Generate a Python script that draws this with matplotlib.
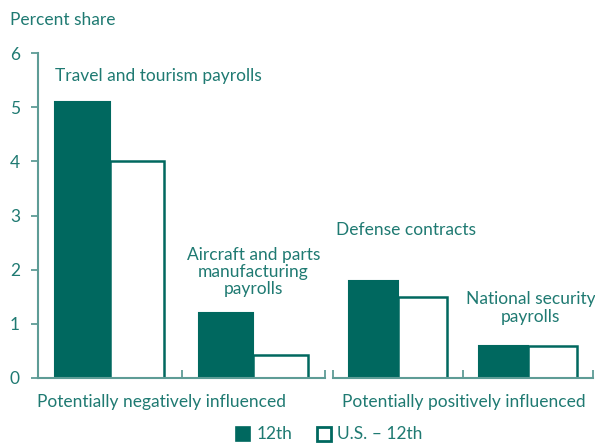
import matplotlib
matplotlib.use("Agg")
import matplotlib.pyplot as plt
from matplotlib.patches import Rectangle

plt.rcParams['font.family'] = ['Lato', 'DejaVu Sans']

# Data
left_categories = ["Travel and tourism payrolls", "Aircraft and parts\nmanufacturing\npayrolls"]
right_categories = ["Defense contracts", "National security\npayrolls"]
left_12th = [5.1, 1.2]
left_us = [4.0, 0.43]
right_12th = [1.8, 0.6]
right_us = [1.5, 0.6]
group_labels = ["Potentially negatively influenced", "Potentially positively influenced"]
series_names = ["12th", "U.S. \u2013 12th"]
yticks = [0, 1, 2, 3, 4, 5, 6]

BAR = '#00685F'
TXT = '#1F7A72'
AX = '#5E9C96'

fig = plt.figure(figsize=(5.95, 4.44), dpi=100)
W, H = 595, 444

def axrect(x0, x1, ytop, ybot):
    return [x0 / W, 1 - ybot / H, (x1 - x0) / W, (ybot - ytop) / H]

axL = fig.add_axes(axrect(38, 325, 53, 378))
axR = fig.add_axes(axrect(333, 593, 53, 378))

w = 0.38
centers = [0.5, 1.5]
for ax, v12, vus in [(axL, left_12th, left_us), (axR, right_12th, right_us)]:
    ax.bar([c - w / 2 for c in centers], v12, width=w, color=BAR, edgecolor=BAR, linewidth=1.5)
    ax.bar([c + w / 2 for c in centers], vus, width=w, color='white', edgecolor=BAR, linewidth=1.8)
    ax.set_xlim(0, 2)
    ax.set_ylim(0, 6)
    for s in ['top', 'right']:
        ax.spines[s].set_visible(False)
    ax.spines['bottom'].set_color(AX)
    ax.spines['bottom'].set_linewidth(1.5)
    ax.set_xticks([0, 1, 2])
    ax.set_xticklabels([])
    ax.tick_params(axis='x', direction='in', length=6, width=1.3, color=AX)
    ax.patch.set_alpha(0)

axL.spines['left'].set_color(AX)
axL.spines['left'].set_linewidth(1.5)
axL.set_yticks(yticks)
axL.set_yticklabels([str(t) for t in yticks])
axL.tick_params(axis='y', direction='out', length=5, width=1.3, color=AX,
                labelcolor=TXT, labelsize=12.5, pad=8)
axR.spines['left'].set_visible(False)
axR.set_yticks([])

fs = 12.5
axL.text(centers[0] - w, 5.57, left_categories[0], color=TXT, fontsize=fs, ha='left', va='center')
axL.text(centers[1], 1.96, left_categories[1], color=TXT, fontsize=fs, ha='center', va='center',
         linespacing=1.1)
axR.text(0.56, 2.73, right_categories[0], color=TXT, fontsize=fs, ha='center', va='center')
axR.text(1.52, 1.29, right_categories[1], color=TXT, fontsize=fs, ha='center', va='center',
         linespacing=1.1)

axL.text(0.864, -0.45, group_labels[0], color=TXT, fontsize=fs, ha='center', va='center')
axR.text(1.01, -0.45, group_labels[1], color=TXT, fontsize=fs, ha='center', va='center')

fig.text(10 / W, 1 - 20 / H, "Percent share", color=TXT, fontsize=fs, ha='left', va='center')

# Legend
sq = 14
fig.patches.append(Rectangle((236 / W, 1 - 441 / H), sq / W, sq / H, transform=fig.transFigure,
                             facecolor=BAR, edgecolor=BAR, linewidth=1.2))
fig.text(257 / W, 1 - 434 / H, series_names[0], color=TXT, fontsize=fs, ha='left', va='center')
fig.patches.append(Rectangle((317 / W, 1 - 441 / H), sq / W, sq / H, transform=fig.transFigure,
                             facecolor='white', edgecolor=BAR, linewidth=2))
fig.text(337 / W, 1 - 434 / H, series_names[1], color=TXT, fontsize=fs, ha='left', va='center')

fig.savefig("out.png", dpi=100)
